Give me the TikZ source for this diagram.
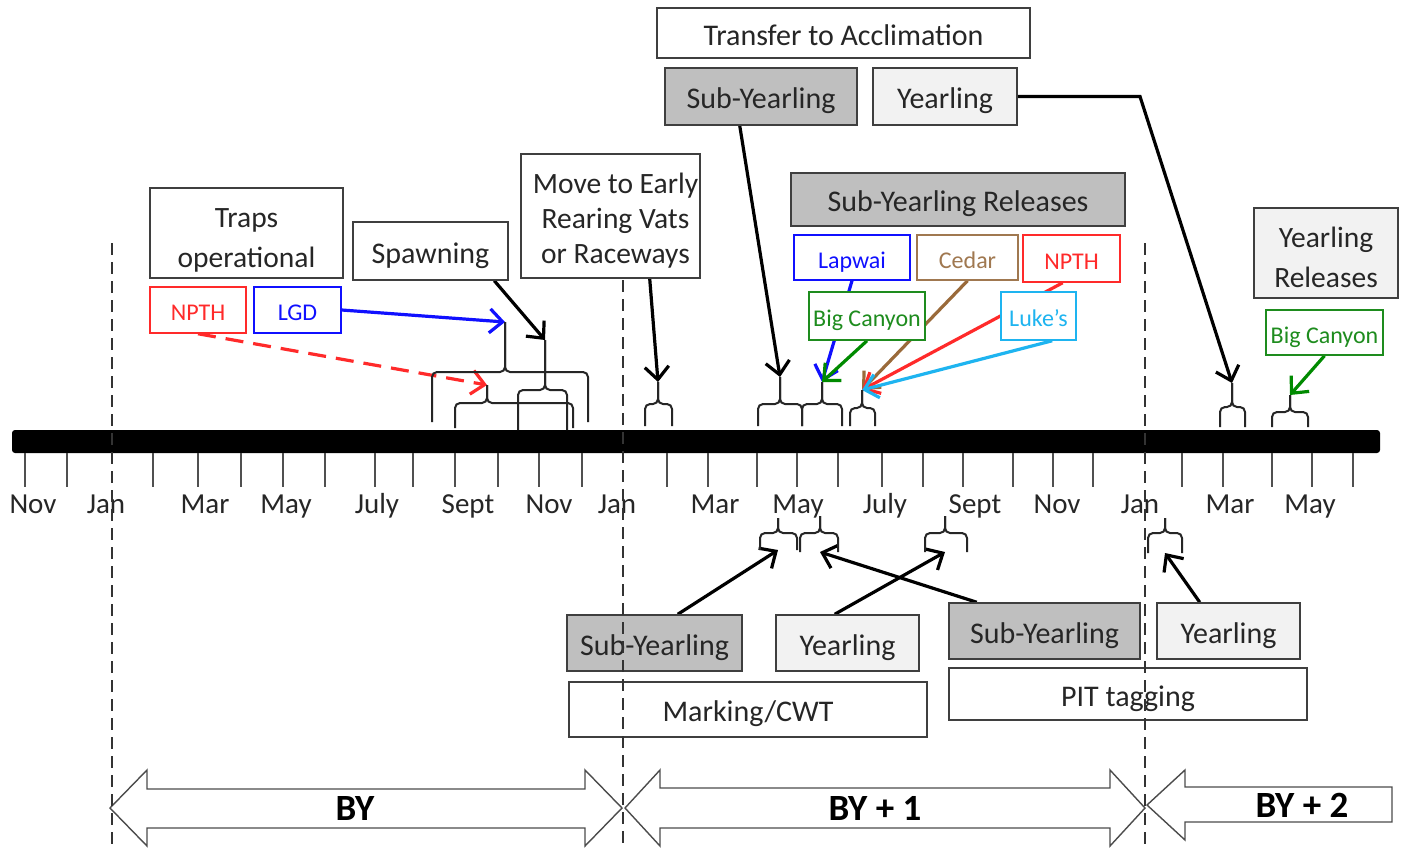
\documentclass[tikz,border=0pt]{standalone}
\usepackage{fontspec}
\setmainfont{Carlito}
\usetikzlibrary{arrows.meta}
\pgfdeclarelayer{bgl}
\pgfdeclarelayer{conn}
\pgfdeclarelayer{topl}
\pgfsetlayers{bgl,conn,main,topl}
\definecolor{boxline}{HTML}{3F3F3F}
\definecolor{gfill}{HTML}{BFBFBF}
\definecolor{lfill}{HTML}{F2F2F2}
\definecolor{cblue}{HTML}{1010FF}
\definecolor{cgreen}{HTML}{1E8C1E}
\definecolor{agreen}{HTML}{008A00}
\definecolor{cbrown}{HTML}{A07850}
\definecolor{abrown}{HTML}{9A6A3A}
\definecolor{cred}{HTML}{FF2A2A}
\definecolor{ccyan}{HTML}{1EB4F0}
\definecolor{tickc}{HTML}{505050}
\newcommand\mybrace[6]{%
  \draw[brc] (#1,#6) -- (#1,#5) -- (#3,#5) -- (#3,#4);
  \draw[brc] (#2,#6) -- (#2,#5) -- (#3,#5) -- (#3,#4);}
\begin{document}
\begin{tikzpicture}[x=1pt,y=-1pt,
  every node/.style={inner sep=0pt},
  mbox/.style={draw=boxline, line width=1.5pt, fill=white, align=center,
    font=\fontsize{29.5}{35}\selectfont, text=black!85},
  box/.style={draw=boxline, line width=1.5pt, fill=white,
    font=\fontsize{30}{35}\selectfont, text=black!85, text height=29pt, text depth=5pt},
  gbox/.style={box, fill=gfill},
  lbox/.style={box, fill=lfill},
  cbox/.style={draw=#1, line width=1.5pt, fill=white, text=#1,
    font=\fontsize{24}{28}\selectfont, text height=25pt, text depth=4pt},
  month/.style={font=\fontsize{29}{35}\selectfont, text=black!85, anchor=base},
  bytext/.style={font=\bfseries\fontsize{37}{40}\selectfont},
  tickl/.style={draw=tickc, line width=2pt},
  dashln/.style={draw=black!80, line width=1.6pt, dash pattern=on 12pt off 7pt},
  brc/.style={draw=black!85, line width=2pt, rounded corners=5pt},
  arr/.style={line width=3.2pt, -{Straight Barb[length=13pt,width=24pt]}},
  bigarr/.style={draw=black!70, line width=1.4pt, fill=white, line join=miter}
]
\begin{pgfonlayer}{bgl}
\fill[white] (0,0) rectangle (1402,849);
\end{pgfonlayer}
\useasboundingbox (0,0) rectangle (1402,849);

% timeline bar and ticks
\fill[black, rounded corners=3pt] (12,430) rectangle (1380,453);
\foreach \x in {25,67,153,198,241,283,325,375,413,455,498,539,582,667,708,757,797,838,882,923,963,1013,1053,1093,1182,1223,1272,1312,1353}
  \draw[tickl] (\x,453) -- (\x,487);
\foreach \x/\t [count=\i] in {33/Nov,106/Jan,205/Mar,286/May,377/July,468/Sept,549/Nov,617/Jan,715/Mar,798/May,885/July,975/Sept,1057/Nov,1140/Jan,1230/Mar,1310/May}
  \node[month] (m\i) at (\x,513) {\t};

% top boxes
\node[box, minimum width=373pt, minimum height=50pt] (acc) at (843.5,33) {Transfer to Acclimation};
\node[gbox, minimum width=192pt, minimum height=57pt] (sy1) at (761,96.5) {Sub-Yearling};
\node[lbox, minimum width=144pt, minimum height=57pt] (yr1) at (945,96.5) {Yearling};
\node[mbox, minimum width=193pt, minimum height=90pt, font=\fontsize{29.5}{40}\selectfont] (traps) at (246.5,233) {\rule{0pt}{34pt}Traps\\operational};
\node[box, minimum width=155pt, minimum height=58pt] (spawn) at (430.5,251) {Spawning};
\node[mbox, minimum width=179pt, minimum height=124pt] (move) at (610.5,216) {\rule{0pt}{30pt}\hspace{10pt}Move to Early\\\hspace{10pt}Rearing Vats\\\hspace{10pt}or Raceways};
\node[gbox, minimum width=334pt, minimum height=53pt] (syrel) at (958,199.5) {Sub-Yearling Releases};
\node[mbox, fill=lfill, minimum width=144pt, minimum height=90pt, font=\fontsize{29.5}{40}\selectfont] (yrrel) at (1326,253) {\rule{0pt}{30pt}Yearling\\Releases};

% coloured source boxes
\node[cbox=cred, minimum width=96pt, minimum height=46pt] (npth1) at (198,310) {NPTH};
\node[cbox=cblue, minimum width=87pt, minimum height=46pt] (lgd) at (297.5,310) {LGD};
\node[cbox=cblue, minimum width=116pt, minimum height=45pt] (lapwai) at (852,257.5) {Lapwai};
\node[cbox=cbrown, minimum width=101pt, minimum height=45pt] (cedar) at (967.5,257.5) {Cedar};
\node[cbox=cred, minimum width=97pt, minimum height=47pt] (npth2) at (1071.5,258.5) {NPTH};
\node[cbox=cgreen, minimum width=116pt, minimum height=48pt] (bigc1) at (867,316) {Big Canyon};
\node[cbox=ccyan, minimum width=75pt, minimum height=48pt] (lukes) at (1038.5,316) {Luke’s};
\node[cbox=cgreen, minimum width=117pt, minimum height=45pt] (bigc2) at (1324.5,332.5) {Big Canyon};

% bottom boxes
\node[gbox, minimum width=175pt, minimum height=56pt] (sy2) at (654.5,643) {Sub-Yearling};
\node[lbox, minimum width=143pt, minimum height=56pt] (yr2) at (847.5,643) {Yearling};
\node[box, minimum width=358pt, minimum height=55pt] (mark) at (748,709.5) {Marking/CWT};
\node[gbox, minimum width=191pt, minimum height=56pt] (sy3) at (1044.5,631) {Sub-Yearling};
\node[lbox, minimum width=143pt, minimum height=56pt] (yr3) at (1228.5,631) {Yearling};
\node[box, minimum width=358pt, minimum height=52pt] (pit) at (1128,694) {PIT tagging};

% braces (stem tips as coordinates)
\coordinate (bA) at (505,322);
\coordinate (bB) at (545,340);
\coordinate (bC) at (487,385);
\coordinate (bM) at (658,382);
\coordinate (bD) at (780,377);
\coordinate (bE) at (822,382);
\coordinate (bF) at (862,390);
\coordinate (bG) at (1232,383);
\coordinate (bH) at (1290,395);
\coordinate (bI) at (778,550);
\coordinate (bJ) at (820,552);
\coordinate (bK) at (945,552);
\coordinate (bL) at (1165,553);
\coordinate (ybend) at (1140,98);
\mybrace{432}{588}{505}{322}{372}{422}
\mybrace{518}{567}{545}{340}{390}{430}
\mybrace{455}{573}{487}{385}{403}{428}
\mybrace{645}{672}{658}{382}{404}{426}
\mybrace{758}{802}{780}{377}{404}{426}
\mybrace{802}{842}{822}{382}{404}{426}
\mybrace{850}{875}{862}{390}{408}{426}
\mybrace{1220}{1245}{1232}{383}{407}{427}
\mybrace{1272}{1308}{1290}{395}{412}{427}
\mybrace{760}{797}{778}{518}{533}{550}
\mybrace{800}{838}{820}{516}{533}{552}
\mybrace{925}{967}{945}{516}{533}{552}
\mybrace{1148}{1182}{1165}{518}{533}{553}

% connectors
\begin{pgfonlayer}{conn}
\draw[arr, black] (spawn.-25) -- (bB);
\draw[arr, cblue] (lgd.east) -- (bA);
\draw[arr, cred, dash pattern=on 18pt off 10pt] (npth1.south) -- (bC);
\draw[arr, black] (move.-58) -- (bM);
\draw[arr, black] (sy1.-126) -- (bD);
\draw[arr, black] (yr1.east) -- (yr1.east -| ybend) -- (bG);
\draw[arr, cblue] (lapwai.south) -- (bE);
\draw[arr, agreen] (bigc1.south) -- (bE);
\draw[arr, abrown] (cedar.south) -- (bF);
\draw[arr, cred] (npth2.-110) -- (bF);
\draw[arr, ccyan] (lukes.-61) -- (bF);
\draw[arr, agreen] (bigc2.south) -- (bH);
\draw[arr, black] (sy2.51) -- (bI);
\draw[arr, black] (yr2.114) -- (bK);
\draw[arr, black] (sy3.157) -- (bJ);
\draw[arr, black] (yr3.135) -- (bL);
\end{pgfonlayer}

% brood-year arrows
\draw[bigarr] (110,808) -- (147,770) -- (147,789) -- (585,789) -- (585,770) -- (622,808)
  -- (585,846) -- (585,828) -- (147,828) -- (147,846) -- cycle;
\draw[bigarr] (625,808) -- (660,770) -- (660,788) -- (1110,788) -- (1110,770) -- (1145,808)
  -- (1110,846) -- (1110,828) -- (660,828) -- (660,846) -- cycle;
\draw[bigarr] (1147,805) -- (1185,770) -- (1185,787) -- (1392,787) -- (1392,822)
  -- (1185,822) -- (1185,840) -- cycle;
\node[bytext] (by0) at (355,808) {BY};
\node[bytext] (by1) at (875,808) {BY + 1};
\node[bytext] (by2) at (1302,805) {BY + 2};

% year separators
\begin{pgfonlayer}{topl}
\draw[dashln] (112,243) -- (112,849);
\draw[dashln] (623,280) -- (623,849);
\draw[dashln] (1145,243) -- (1145,849);
\end{pgfonlayer}
\end{tikzpicture}
\end{document}
